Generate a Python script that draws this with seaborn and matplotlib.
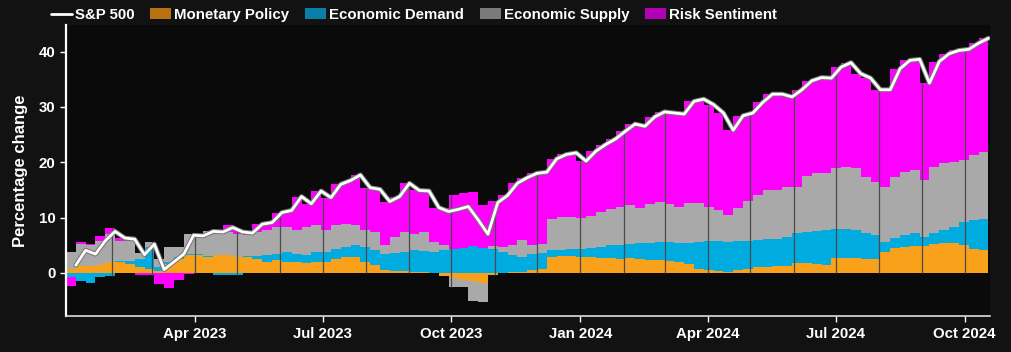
#!/usr/bin/env python3

# S&P 500 log change since end-2022, split into four driver contributions.

import matplotlib
matplotlib.use("Agg")
import matplotlib.pyplot as plt
import matplotlib.dates as mdates
import matplotlib.patheffects as pe
from matplotlib.lines import Line2D
from matplotlib.patches import Patch
import numpy as np
import pandas
import seaborn as sns

# weekly values (Friday closes), % change
dates = pandas.date_range("2023-01-06", periods=94, freq="W-FRI")

sp500 = [1.4, 4.1, 3.4, 5.8, 7.5, 6.3, 6.1, 3.3, 5.2, 0.6,
         2.0, 3.4, 6.8, 6.7, 7.5, 7.4, 8.2, 7.4, 7.2, 8.8,
         9.1, 10.9, 11.3, 13.8, 12.5, 14.8, 13.6, 16.0, 16.7, 17.7,
         15.4, 15.1, 12.9, 13.8, 16.2, 14.9, 14.8, 11.8, 11.1, 11.5,
         12.0, 9.6, 7.0, 12.7, 14.0, 16.2, 17.2, 18.0, 18.2, 20.6,
         21.4, 21.7, 20.2, 22.0, 23.2, 24.2, 25.6, 26.9, 26.5, 28.2,
         29.1, 28.9, 28.7, 31.0, 31.4, 30.4, 28.9, 25.8, 28.4, 28.9,
         30.8, 32.3, 32.3, 31.8, 33.1, 34.7, 35.3, 35.2, 37.2, 38.0,
         36.0, 35.2, 33.1, 33.1, 36.9, 38.4, 38.6, 34.3, 38.2, 39.6,
         40.2, 40.4, 41.5, 42.4]

monetary = [0.8, 1.2, 1.3, 1.5, 2.0, 1.9, 1.6, 1.1, 0.8, 0.3,
            1.7, 2.6, 3.2, 3.2, 2.9, 3.2, 3.2, 2.9, 2.9, 2.6,
            2.0, 2.3, 2.0, 2.0, 1.8, 2.0, 2.0, 2.6, 2.9, 2.9,
            2.0, 1.4, 0.5, 0.3, 0.3, 0.2, 0.2, 0.0, -0.6, -1.0,
            -1.3, -1.5, -1.8, -0.3, 0.0, 0.1, 0.2, 0.5, 0.8, 2.9,
            3.0, 3.0, 2.9, 2.9, 2.7, 2.7, 2.6, 2.7, 2.5, 2.4,
            2.3, 2.2, 2.0, 1.6, 0.8, 0.5, 0.3, 0.2, 0.5, 0.8,
            1.0, 1.1, 1.2, 1.3, 1.8, 1.8, 1.7, 1.5, 2.7, 2.7,
            2.7, 2.6, 2.6, 3.8, 4.5, 4.7, 4.8, 4.8, 5.2, 5.4,
            5.4, 5.0, 4.3, 4.2]

demand = [-0.8, -1.5, -1.8, -0.8, -0.6, 0.3, 0.6, 1.5, 3.8, 0.8,
          0.3, 0.3, 0.3, 0.2, 0.1, -0.3, -0.4, -0.3, 0.1, 0.5,
          1.2, 1.2, 1.8, 1.5, 1.5, 1.7, 1.8, 1.8, 1.8, 2.1,
          2.7, 2.7, 3.0, 3.3, 3.5, 3.9, 3.8, 3.8, 4.1, 4.3,
          4.5, 4.9, 4.5, 4.3, 3.8, 3.2, 2.7, 3.0, 2.8, 1.2,
          1.2, 1.3, 1.4, 1.6, 2.0, 2.4, 2.5, 2.6, 2.9, 3.0,
          3.2, 3.4, 3.4, 3.8, 4.8, 5.2, 5.4, 5.3, 5.2, 5.0,
          5.0, 5.1, 5.0, 5.2, 5.4, 5.6, 5.8, 6.2, 5.3, 5.2,
          5.1, 4.6, 4.3, 1.8, 1.8, 2.2, 2.4, 1.7, 2.0, 2.4,
          2.9, 4.2, 5.3, 5.6]

supply = [3.0, 4.0, 3.8, 4.3, 5.1, 3.6, 3.5, 1.0, 1.0, 1.5,
          2.7, 1.8, 3.5, 3.1, 4.5, 3.9, 4.2, 4.2, 3.9, 4.3,
          4.5, 4.8, 4.5, 4.2, 5.0, 4.9, 3.9, 4.2, 4.2, 3.6,
          3.0, 3.3, 1.5, 2.9, 3.6, 3.0, 3.4, 1.8, 0.9, -1.5,
          -1.2, -3.5, -3.4, 0.5, 0.9, 1.7, 3.0, 1.5, 1.6, 5.7,
          5.9, 5.8, 5.7, 5.8, 6.3, 6.4, 6.9, 7.0, 6.4, 7.0,
          7.4, 6.8, 6.6, 7.2, 7.0, 6.3, 5.6, 5.0, 6.0, 7.2,
          8.0, 8.8, 8.8, 9.0, 8.4, 10.2, 10.5, 10.4, 11.0, 11.3,
          11.2, 10.2, 9.6, 10.0, 11.1, 11.4, 11.4, 10.3, 12.0, 12.1,
          11.8, 11.2, 11.7, 12.1]

risk = [-1.6, 0.4, 0.1, 0.8, 1.0, 0.5, 0.4, -0.3, -0.4, -2.0,
        -2.7, -1.3, -0.2, 0.2, 0.0, 0.6, 1.2, 0.6, 0.3, 1.4,
        1.4, 2.6, 3.0, 6.1, 4.2, 6.2, 5.9, 7.4, 7.8, 9.1,
        7.7, 7.7, 7.9, 7.3, 8.8, 7.8, 7.4, 6.2, 6.7, 9.7,
        10.0, 9.7, 7.7, 8.2, 9.3, 11.2, 11.3, 13.0, 13.0, 10.8,
        11.3, 11.6, 10.2, 11.7, 12.2, 12.7, 13.6, 14.6, 14.7, 15.8,
        16.2, 16.5, 16.7, 18.4, 18.8, 18.4, 17.6, 15.3, 16.7, 15.9,
        16.8, 17.3, 17.3, 16.3, 17.5, 17.1, 17.3, 17.1, 18.2, 18.8,
        17.0, 17.8, 16.6, 17.5, 19.5, 20.1, 20.0, 17.5, 19.0, 19.7,
        20.1, 20.0, 20.2, 20.5]

components = ["Monetary Policy", "Economic Demand", "Economic Supply", "Risk Sentiment"]
colors = ["#f9a11b", "#00abe0", "#a9a9a9", "#ff00ff"]
legend_colors = ["#b8720f", "#0a7ea8", "#7a7a7a", "#b400b4"]

df = pandas.DataFrame({
    "date": dates,
    "S&P 500": sp500,
    "Monetary Policy": monetary,
    "Economic Demand": demand,
    "Economic Supply": supply,
    "Risk Sentiment": risk,
})

sns.set_theme(style="dark")
plt.rcParams["font.family"] = ["Liberation Sans", "DejaVu Sans"]
plt.rcParams["font.weight"] = "bold"

fig = plt.figure(figsize=(10.11, 3.52), dpi=100, facecolor="#121212")
ax = fig.add_axes([0.0653, 0.102, 0.9137, 0.827])
ax.set_facecolor("#0a0a0a")

# diverging stack: positives up from zero, negatives down
pos_base = np.zeros(len(df))
neg_base = np.zeros(len(df))
for name, color in zip(components, colors):
    vals = df[name].to_numpy()
    pos = np.clip(vals, 0, None)
    neg = np.clip(vals, None, 0)
    ax.bar(df["date"], pos, bottom=pos_base, width=-7, align="edge",
           color=color, linewidth=0, antialiased=False, zorder=2)
    ax.bar(df["date"], neg, bottom=neg_base, width=-7, align="edge",
           color=color, linewidth=0, antialiased=False, zorder=2)
    pos_base = pos_base + pos
    neg_base = neg_base + neg

# monthly separators, only inside the bars
months = pandas.date_range("2023-02-01", "2024-10-01", freq="MS")
idx = np.searchsorted(df["date"].to_numpy(), months.to_numpy())
ax.vlines(months, neg_base[idx], pos_base[idx], color="#4a4a4a", linewidth=0.9, zorder=3)

sns.lineplot(data=df, x="date", y="S&P 500", ax=ax, color="white", linewidth=2,
             zorder=4, path_effects=[pe.Stroke(linewidth=3.5, foreground="#777777"), pe.Normal()])

ax.set_xlim(pandas.Timestamp("2022-12-30"), pandas.Timestamp("2024-10-19"))
ax.set_ylim(-7.8, 44.8)
ax.set_yticks([0, 10, 20, 30, 40])
ax.set_xticks(pandas.to_datetime(["2023-04-01", "2023-07-01", "2023-10-01",
                                  "2024-01-01", "2024-04-01", "2024-07-01", "2024-10-01"]))
ax.xaxis.set_major_formatter(mdates.DateFormatter("%b %Y"))
ax.grid(False)

ax.set_xlabel("")
ax.set_ylabel("Percentage change", color="white", fontsize=12, fontweight="bold", labelpad=8)
ax.tick_params(axis="both", colors="white", labelsize=10.8, length=4, width=1,
               direction="out", bottom=True, left=True)
for lbl in ax.get_xticklabels() + ax.get_yticklabels():
    lbl.set_fontweight("bold")
for side in ["top", "right"]:
    ax.spines[side].set_visible(False)
ax.spines["left"].set_color("white")
ax.spines["left"].set_linewidth(1.6)
ax.spines["bottom"].set_color("#dddddd")
ax.spines["bottom"].set_linewidth(1.2)

handles = [Line2D([0], [0], color="white", linewidth=2)]
handles += [Patch(facecolor=c, edgecolor="none") for c in legend_colors]
leg = fig.legend(handles, ["S&P 500"] + components, loc="upper left",
                 bbox_to_anchor=(0.037, 1.015), ncol=5, frameon=False,
                 handlelength=1.4, handleheight=0.75, handletextpad=0.2,
                 columnspacing=1.05, fontsize=10.8)
for t in leg.get_texts():
    t.set_color("white")
    t.set_fontweight("bold")

fig.savefig("out.png", dpi=100, facecolor=fig.get_facecolor())
